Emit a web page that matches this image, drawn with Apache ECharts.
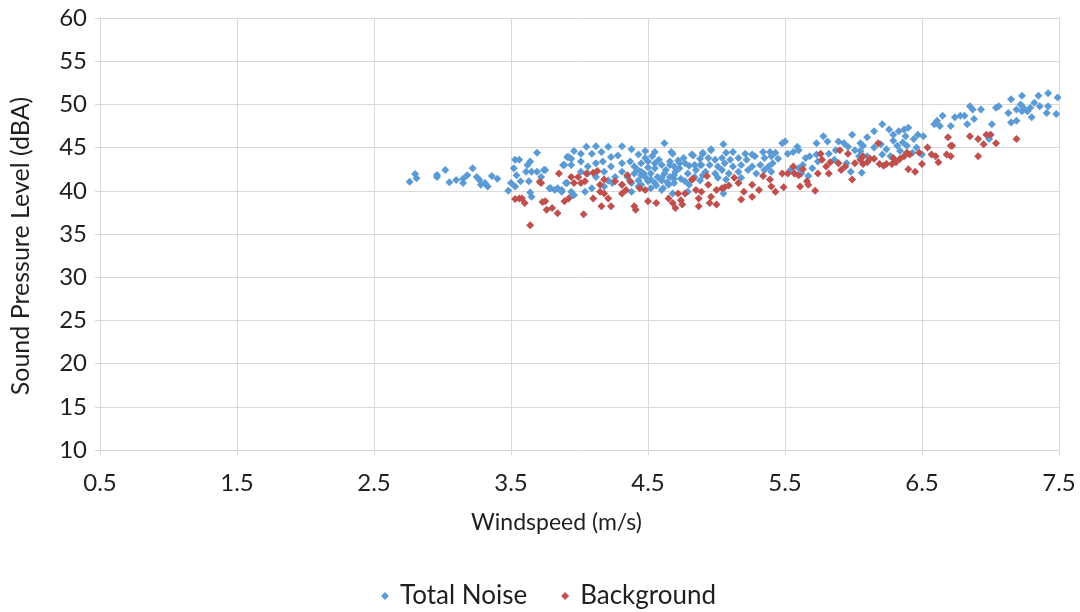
<!DOCTYPE html>
<html>
<head>
<meta charset="utf-8">
<script src="https://cdn.jsdelivr.net/npm/echarts@6/dist/echarts.min.js"></script>
<style>html,body{margin:0;padding:0;background:#fff}#c{width:1080px;height:612px}</style>
</head>
<body>
<div id="c"></div>
<script>
const seriesNames = ['Total Noise', 'Background'];
const xTicks = [0.5, 1.5, 2.5, 3.5, 4.5, 5.5, 6.5, 7.5];
const yTicks = [10, 15, 20, 25, 30, 35, 40, 45, 50, 55, 60];

const totalNoise = [
[2.76,41.05],[2.80,41.94],[2.81,41.45],[2.96,41.83],[2.96,41.6],[3.02,42.4],[3.05,41.0],[3.10,41.25],[3.15,40.9],[3.15,41.4],[3.18,41.8],[3.22,42.6],[3.25,41.6],[3.27,41.25],[3.28,40.7],[3.31,40.9],[3.33,40.5],[3.36,41.7],[3.40,41.4],
[3.48,40.0],[3.50,40.9],[3.52,42.6],[3.53,43.6],[3.56,43.6],[3.54,41.8],[3.57,41.1],[3.53,40.5],[3.62,43.0],[3.64,43.4],[3.61,42.2],[3.65,42.2],[3.63,41.1],[3.64,39.8],[3.65,39.3],[3.69,44.4],[3.69,42.2],[3.74,42.4],[3.78,40.3],[3.82,40.1],[3.87,39.9],[3.88,43.0],[3.91,43.9],[3.94,43.7],[3.91,40.9],[3.96,39.5],[3.75,42.4],[3.72,41.6],[3.79,40.3],[3.90,40.9],[3.95,39.5],
[3.96,44.6],[4.05,45.1],[4.12,45.15],[4.21,45.1],[4.31,45.15],[4.38,44.8],[4.43,44.2],[4.48,44.6],[4.55,44.5],[4.62,45.5],[4.67,44.5],[4.72,43.5],[4.83,44.1],[4.88,43.7],
[3.92,43.9],[4.01,44.3],[4.09,44.3],[4.16,44.5],[4.23,43.9],[4.28,44.1],
[3.89,43.0],[3.94,43.0],[4.01,43.4],[4.06,42.8],[4.12,43.2],[4.17,43.4],[4.23,42.8],[4.31,43.2],[4.37,43.4],[4.40,42.8],[4.45,43.2],[4.50,43.4],[4.55,43.2],[4.60,43.0],[4.66,43.4],[4.69,42.8],[4.77,43.2],[4.84,43.0],
[3.84,40.3],[3.87,40.1],[3.94,39.9],
[4.01,42.2],[4.06,42.0],[4.12,41.6],[4.18,42.2],[4.26,41.6],[4.31,42.2],[4.35,41.6],[4.40,42.0],[4.45,42.2],[4.48,41.6],[4.52,42.0],[4.57,41.6],[4.62,42.0],[4.66,41.6],[4.69,41.8],[4.74,41.4],[4.79,42.0],[4.84,41.6],[4.88,41.2],
[4.21,41.2],[4.24,40.9],[4.31,40.7],[4.38,40.9],[4.43,41.2],[4.45,40.7],[4.50,41.1],[4.55,40.9],[4.60,41.2],[4.65,40.7],[4.69,40.9],[4.77,41.1],[4.80,40.7],
[4.04,39.9],[4.09,40.3],[4.18,40.5],[4.38,39.9],[4.52,40.3],[4.60,40.1],[4.68,39.7],[4.79,39.9],
[4.42,42.5],[4.47,42.0],[4.52,41.3],[4.55,42.6],[4.58,43.6],[4.63,42.4],[4.66,43.0],[4.70,42.2],[4.45,41.8],[4.50,42.7],[4.48,43.8],[4.60,41.5],[4.64,41.0],[4.56,40.6],[4.53,44.0],[4.43,40.5],[4.61,40.3],[4.69,41.4],[4.73,42.6],[4.76,43.8],[4.80,42.9],[4.85,42.4],[4.88,43.0],[4.90,41.8],[4.68,44.3],[4.73,43.2],
[4.82,44.2],[4.90,44.4],[4.96,44.8],
[5.05,45.4],[4.96,44.7],[4.90,44.3],[5.07,44.4],[5.12,44.5],[5.21,44.3],[5.26,44.2],[5.34,44.5],[5.39,44.5],[5.43,44.4],[5.48,45.5],[5.50,45.7],
[4.94,43.8],[4.99,43.6],[5.04,43.8],[5.10,43.6],[5.16,43.8],[5.22,43.6],[5.28,44.0],[5.35,43.8],[5.40,44.0],[5.45,43.7],
[4.89,43.0],[4.95,43.0],[5.01,42.8],[5.06,43.2],[5.12,42.8],[5.18,43.0],[5.26,42.8],[5.32,43.0],[5.38,42.8],[5.41,43.2],
[4.92,42.2],[4.99,42.0],[5.04,42.4],[5.09,42.0],[5.16,42.2],[5.23,42.4],[5.29,42.0],[5.35,42.4],[5.40,42.2],
[5.01,41.5],[5.07,41.3],[5.18,41.5],[5.05,39.7],
[5.52,44.3],[5.59,45.1],[5.56,44.5],[5.60,44.7],[5.65,43.8],[5.68,44.0],[5.73,45.5],[5.78,46.3],[5.81,45.7],[5.73,44.2],[5.82,44.3],[5.87,44.7],[5.89,45.7],[5.93,45.5],[5.99,46.5],[5.96,45.1],[6.01,44.7],[6.04,44.0],[6.05,45.5],[5.63,43.0],[5.70,42.6],[5.74,43.4],[5.86,43.6],[5.95,43.2],[5.98,42.2],[5.54,42.4],[5.57,42.0],[5.62,42.0],[5.67,41.7],[5.60,42.6],
[6.07,45.2],[6.06,42.1],[6.10,46.2],[6.15,46.9],[6.21,47.7],[6.26,47.1],[6.29,46.5],[6.33,46.9],[6.37,47.1],[6.40,47.3],[6.38,46.3],[6.29,45.8],[6.32,45.2],[6.36,45.6],[6.44,46.0],[6.47,46.5],[6.51,46.3],[6.46,45.0],[6.43,44.4],[6.15,45.0],[6.20,45.4],[6.24,44.8],[6.21,44.2],[6.27,44.0],[6.34,44.6],[6.39,45.2],[6.50,44.2],[6.05,44.6],[6.10,44.0],
[6.59,47.7],[6.61,48.1],[6.65,48.7],[6.63,47.5],[6.71,47.5],[6.74,48.5],[6.78,48.7],[6.81,48.7],[6.83,47.7],[6.87,49.4],[6.88,48.3],[6.93,49.4],[7.01,47.7],[7.00,46.5],[6.99,46.0],[7.04,49.6],[7.06,49.8],[7.15,50.6],[7.13,49.0],[7.15,47.9],[7.19,48.1],[7.19,49.4],[7.23,51.0],[7.24,49.6],[7.27,49.2],[7.29,49.6],[7.30,48.5],[7.32,50.2],[7.35,51.0],[7.36,49.8],[7.42,51.3],[7.42,49.8],[7.41,49.0],[7.49,50.8],[7.48,48.9],[7.23,49.2],[7.22,50.0],[6.85,49.8]
];

const background = [
[3.53,39.05],[3.56,39.1],[3.58,39.1],[3.60,38.6],[3.64,36.0],[3.71,41.05],[3.73,38.7],[3.76,37.8],[3.80,38.0],[3.84,37.4],[3.85,42.0],[3.72,40.9],[3.75,38.8],[3.89,38.8],[3.92,39.1],[3.94,41.6],[3.96,40.9],[3.99,41.6],[4.01,40.9],[4.05,42.0],[4.10,42.1],[4.13,42.3],[4.04,41.1],[4.15,40.7],[4.18,41.3],[4.15,39.9],[4.18,39.7],[4.26,41.1],[4.31,40.7],[4.31,39.7],[4.35,41.8],[4.37,41.1],[4.34,40.1],[4.21,39.1],[4.10,39.1],[4.03,37.3],[4.16,38.2],[4.23,38.2],[4.40,38.2],[4.41,37.8],[4.44,40.3],[4.48,40.1],[4.50,38.8],[4.56,38.6],[4.65,39.1],[4.72,39.7],[4.75,38.4],[4.77,39.7],[4.74,38.9],[4.83,41.4],[4.85,40.1],[4.87,39.1],[4.87,38.2],[4.70,38.0],[4.68,38.6],[4.82,41.3],
[4.93,41.7],[5.00,40.1],[4.94,40.7],[4.89,39.9],[4.96,39.3],[4.95,38.6],[5.00,38.4],[5.04,40.3],[5.06,40.4],[5.09,40.6],[5.13,41.5],[5.16,40.9],[5.20,39.9],[5.18,39.0],[5.26,39.3],[5.26,40.7],[5.31,40.1],[5.34,41.7],[5.39,41.3],[5.40,40.5],[5.43,39.9],[5.49,40.4],[5.48,42.0],[5.52,42.0],[5.56,42.8],[5.57,42.0],[5.60,41.8],[5.61,40.5],[5.63,42.5],[5.66,41.1],[5.67,40.7],[5.72,40.0],[5.74,42.0],[5.77,43.6],[5.76,44.3],[5.80,42.8],[5.83,43.3],[5.82,42.0],[5.89,43.2],[5.90,44.7],[5.91,42.4],[5.94,42.8],[5.96,44.3],[5.99,41.3],[6.01,43.2],[6.05,43.6],
[6.18,45.5],[6.07,44.0],[6.10,43.3],[6.07,43.1],[6.12,43.7],[6.15,43.7],[6.19,43.1],[6.22,42.9],[6.24,43.1],[6.28,43.1],[6.29,43.8],[6.31,43.3],[6.34,43.7],[6.37,44.0],[6.39,44.4],[6.41,44.2],[6.40,42.5],[6.45,42.2],[6.50,43.1],[6.48,44.4],[6.54,45.0],[6.57,44.2],[6.60,44.0],[6.62,43.3],[6.69,46.2],[6.71,45.2],[6.68,44.2],[6.71,44.0],[6.72,45.2],[6.85,46.3],[6.91,46.0],[6.91,44.0],[6.95,45.4],[6.97,46.5],[7.00,46.5],[7.04,45.5],[7.19,46.0]
];

const textColor = '#1f1f1f';
const lineColor = '#d9d9d9';
const font = 'Lato';
const chart = echarts.init(document.getElementById('c'));
chart.setOption({
  animation: false,
  textStyle: { fontFamily: font },
  grid: { left: 100, right: 21, top: 18, bottom: 162 },
  legend: {
    bottom: -2, left: 376,
    itemWidth: 8, itemHeight: 8, itemGap: 34,
    textStyle: { fontSize: 26, color: textColor, fontFamily: font, padding: [0, 0, 0, 6] },
    data: seriesNames.map(n => ({ name: n, icon: 'diamond' }))
  },
  xAxis: {
    type: 'value', min: xTicks[0], max: xTicks[xTicks.length - 1], interval: 1,
    name: 'Windspeed (m/s)', nameLocation: 'middle', nameGap: 61,
    nameTextStyle: { fontSize: 23, color: textColor, padding: [0, 46, 0, 0] },
    axisLine: { show: true, lineStyle: { color: lineColor } },
    axisTick: { show: true, length: 5, lineStyle: { color: lineColor } },
    axisLabel: { fontSize: 24, color: textColor, margin: 21, formatter: v => v.toFixed(1) },
    splitLine: { show: true, lineStyle: { color: lineColor } }
  },
  yAxis: {
    type: 'value', min: yTicks[0], max: yTicks[yTicks.length - 1], interval: 5,
    name: 'Sound Pressure Level (dBA)', nameLocation: 'middle', nameGap: 67,
    nameTextStyle: { fontSize: 25, color: textColor, padding: [0, 24, 0, 0] },
    axisLine: { show: true, lineStyle: { color: lineColor } },
    axisTick: { show: true, length: 5, lineStyle: { color: lineColor } },
    axisLabel: { fontSize: 24, color: textColor, margin: 13 },
    splitLine: { show: true, lineStyle: { color: lineColor } }
  },
  series: [
    { name: seriesNames[0], type: 'scatter', symbol: 'diamond', symbolSize: 8, itemStyle: { color: '#5b9bd5', opacity: 1 }, data: totalNoise },
    { name: seriesNames[1], type: 'scatter', symbol: 'diamond', symbolSize: 8, itemStyle: { color: '#c0504d', opacity: 1 }, data: background }
  ]
});
</script>
</body>
</html>
